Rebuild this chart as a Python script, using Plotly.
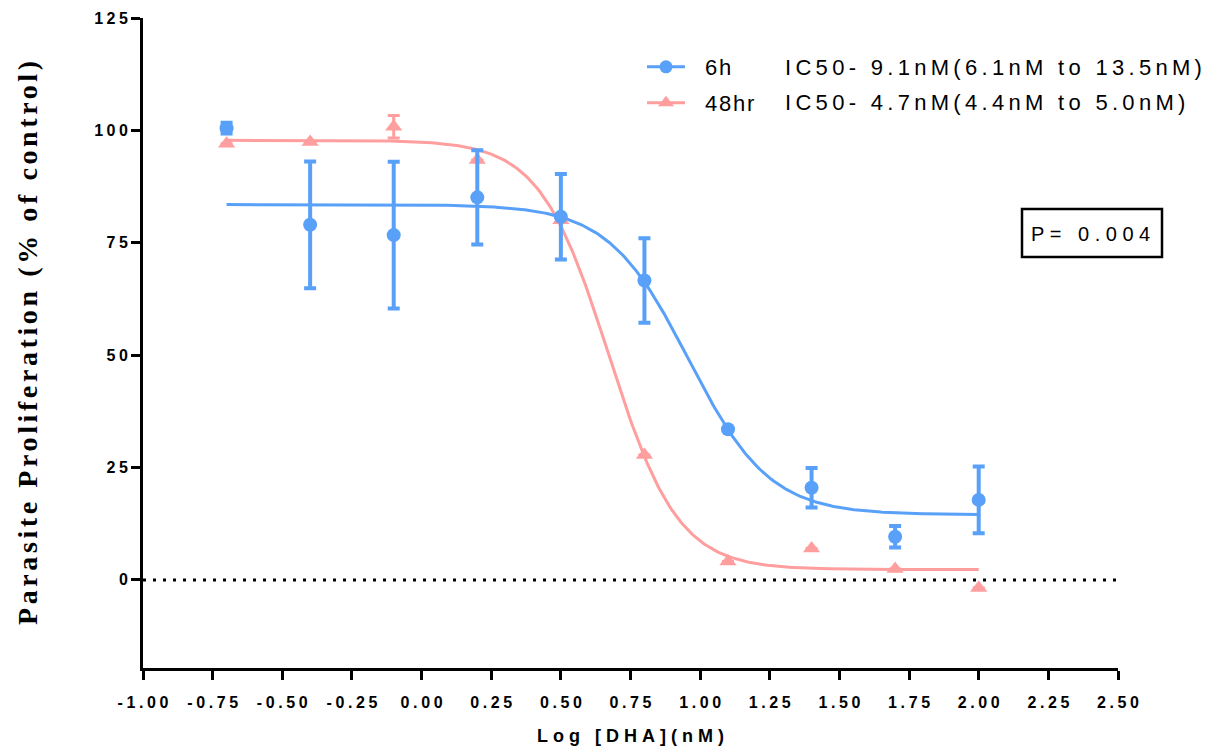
import numpy as np
import plotly.graph_objects as go

# ---------------- data ----------------
log_dha = [-0.7, -0.4, -0.1, 0.2, 0.5, 0.8, 1.1, 1.4, 1.7, 2.0]

mean_6h = [100.5, 79.0, 76.7, 85.1, 80.8, 66.6, 33.5, 20.5, 9.6, 17.8]
sd_6h = [1.2, 14.1, 16.3, 10.5, 9.5, 9.4, None, 4.4, 2.4, 7.4]

mean_48h = [97.0, 97.4, 100.8, 93.4, 80.0, 27.8, 4.1, 7.0, 2.4, -1.8]
sd_48h = [None, None, 2.5, None, None, None, None, None, None, None]

# four-parameter logistic fits (top, bottom, IC50 in nM, Hill slope)
fit_6h = dict(top=83.5, bottom=14.5, ic50=9.1, hill=3.0)
fit_48h = dict(top=97.8, bottom=2.3, ic50=4.7, hill=3.5)
fit_x_range = [-0.7, 2.0]

x_tick_vals = [-1.0, -0.75, -0.5, -0.25, 0.0, 0.25, 0.5, 0.75, 1.0, 1.25, 1.5, 1.75, 2.0, 2.25, 2.5]
x_tick_text = ["-1.00", "-0.75", "-0.50", "-0.25", "0.00", "0.25", "0.50", "0.75",
               "1.00", "1.25", "1.50", "1.75", "2.00", "2.25", "2.50"]
y_tick_vals = [0, 25, 50, 75, 100, 125]
y_tick_text = ["0", "25", "50", "75", "100", "125"]
y_range = [-19.6, 125]

series_names = ["6h", "48hr"]
ic50_labels = ["IC50- 9.1nM(6.1nM to 13.5nM)", "IC50- 4.7nM(4.4nM to 5.0nM)"]
p_label = "P= 0.004"

BLUE = "#58A0F8"
PINK = "#FF9E9E"

# ---------------- figure ----------------
def four_pl(x, p):
    return p["bottom"] + (p["top"] - p["bottom"]) / (1 + 10 ** ((x - np.log10(p["ic50"])) * p["hill"]))

xs = np.linspace(fit_x_range[0], fit_x_range[1], 400)

fig = go.Figure()

# fitted curves
fig.add_trace(go.Scatter(x=xs, y=four_pl(xs, fit_48h), mode="lines",
                         line=dict(color=PINK, width=3), showlegend=False, hoverinfo="skip"))
fig.add_trace(go.Scatter(x=xs, y=four_pl(xs, fit_6h), mode="lines",
                         line=dict(color=BLUE, width=3), showlegend=False, hoverinfo="skip"))

# data points with error bars
fig.add_trace(go.Scatter(
    x=log_dha, y=mean_48h, mode="markers", showlegend=False,
    marker=dict(symbol="triangle-up", size=15, color=PINK),
    error_y=dict(type="data", array=sd_48h, visible=True, color=PINK, thickness=3, width=6)))
fig.add_trace(go.Scatter(
    x=log_dha, y=mean_6h, mode="markers", showlegend=False,
    marker=dict(symbol="circle", size=14, color=BLUE),
    error_y=dict(type="data", array=sd_6h, visible=True, color=BLUE, thickness=4, width=6)))

# legend-only entries (line + marker swatches)
fig.add_trace(go.Scatter(x=[None], y=[None], mode="lines+markers", name=series_names[0],
                         line=dict(color=BLUE, width=3),
                         marker=dict(symbol="circle", size=13, color=BLUE), legend="legend"))
fig.add_trace(go.Scatter(x=[None], y=[None], mode="lines+markers", name=series_names[1],
                         line=dict(color=PINK, width=3),
                         marker=dict(symbol="triangle-up", size=14, color=PINK), legend="legend2"))

# dotted zero line
fig.add_shape(type="line", xref="x", yref="y", x0=x_tick_vals[0], x1=x_tick_vals[-1], y0=0, y1=0,
              line=dict(color="black", width=3, dash="3px,7px"), layer="below")

L, R, T, B = 143, 98, 18, 81
W, H = 1216, 749
PW, PH = W - L - R, H - T - B


def px(xp):
    return (xp - L) / PW


def py(yp):
    return (H - B - yp) / PH


legend_font = dict(family="Liberation Sans, Arial, sans-serif", size=22, color="black")
tick_font = dict(family="Liberation Sans, Arial, sans-serif", size=16, color="black", weight="bold")

# IC50 texts
for label, yp in zip(ic50_labels, [67, 103]):
    fig.add_annotation(x=px(783), y=py(yp), xref="paper", yref="paper", text=label,
                       showarrow=False, xanchor="left", yanchor="middle", font=legend_font)

# P value box
fig.add_shape(type="rect", xref="paper", yref="paper",
              x0=px(1022), x1=px(1162), y0=py(257), y1=py(209),
              line=dict(color="black", width=2.5), fillcolor="white", layer="above")
fig.add_annotation(x=px(1029), y=py(234), xref="paper", yref="paper", text=p_label,
                   showarrow=False, xanchor="left", yanchor="middle",
                   font=dict(family="Liberation Sans, Arial, sans-serif", size=20, color="black"))

axis_common = dict(showline=True, linewidth=3, linecolor="black", ticks="outside",
                   ticklen=9, tickwidth=2.5, tickcolor="black", showgrid=False, zeroline=False,
                   mirror=False, tickfont=tick_font)

fig.update_xaxes(range=[x_tick_vals[0], x_tick_vals[-1]], tickmode="array",
                 tickvals=x_tick_vals, ticktext=x_tick_text, ticklabelstandoff=9,
                 title=dict(text="Log [DHA](nM)", standoff=20,
                            font=dict(family="Liberation Sans, Arial, sans-serif", size=18,
                                      color="black", weight="bold")),
                 **axis_common)
fig.update_yaxes(range=y_range, tickmode="array", tickvals=y_tick_vals, ticktext=y_tick_text,
                 title=dict(text="Parasite Proliferation (% of control)", standoff=56,
                            font=dict(family="Liberation Serif, Times New Roman, serif", size=28,
                                      color="black", weight="bold")),
                 **axis_common)

fig.update_layout(
    width=W, height=H, margin=dict(l=L, r=R, t=T, b=B, autoexpand=False),
    plot_bgcolor="white", paper_bgcolor="white",
    legend=dict(x=px(642), y=py(67), xanchor="left", yanchor="middle", font=legend_font,
                bgcolor="rgba(0,0,0,0)", itemwidth=38, borderwidth=0),
    legend2=dict(x=px(642), y=py(103), xanchor="left", yanchor="middle", font=legend_font,
                 bgcolor="rgba(0,0,0,0)", itemwidth=38, borderwidth=0),
)

# Letter spacing (tracking) applied to the drawn SVG text, keeping each label anchored.
# Each element is processed once; passes are repeated in case parts are drawn late.
post = """
var gd = document.getElementById('{plot_id}');
function track(el, v, fix, extra) {
  if (el.getAttribute('data-trk')) return;
  el.setAttribute('data-trk', '1');
  var w0 = el.getBBox().width;
  el.style.letterSpacing = v + 'px';
  var w1 = el.getBBox().width;
  var dx = extra || 0;
  if (fix === 'left') dx += (w1 - w0) / 2;
  else if (fix === 'center') dx += v / 2;
  else if (fix === 'end') dx += v;
  var tr = el.getAttribute('transform') || '';
  el.setAttribute('transform', tr + ' translate(' + dx + ',0)');
}
function all(sel, v, fix, extra) { gd.querySelectorAll(sel).forEach(function (t) { track(t, v, fix, extra); }); }
function pass() {
  all('g.xtick text', 3.6, 'center');
  all('g.ytick text', 3.4, 'end');
  all('text.xtitle', 5, 'center');
  all('text.ytitle', 3.6, 'center');
  gd.querySelectorAll('.scrollbox').forEach(function (s) { s.removeAttribute('clip-path'); });
  gd.querySelectorAll('.legend, .legend2, g[class^="legend"]').forEach(function (g) {
    g.querySelectorAll('text').forEach(function (t) { track(t, 1.8, 'none', 15); });
  });
  all('text.legendtext', 1.8, 'none', 15);
  gd.querySelectorAll('text.annotation-text').forEach(function (t) {
    var v = (t.textContent.indexOf('P=') === 0) ? 5.5 : 4.3;
    track(t, v, 'left');
  });
}
pass();
setTimeout(pass, 100);
setTimeout(pass, 400);
setTimeout(pass, 1000);
"""

fig.write_html("out.html", post_script=post)
